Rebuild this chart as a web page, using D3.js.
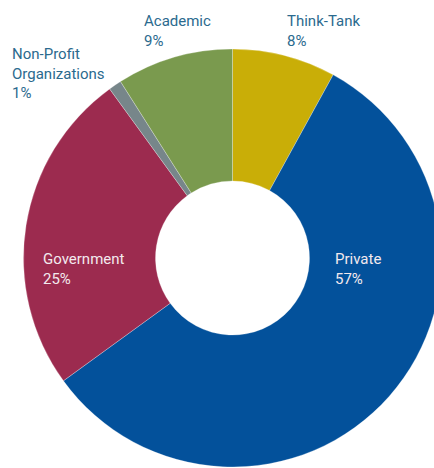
<!DOCTYPE html>
<html>
<head>
<meta charset="utf-8">
<script src="https://cdn.jsdelivr.net/npm/d3@7/dist/d3.min.js"></script>
<style>
  html, body { margin: 0; padding: 0; background: #ffffff; }
  svg { display: block; }
  text { font-family: Roboto, "DejaVu Sans", sans-serif; font-size: 15px; }
</style>
</head>
<body>
<svg id="chart" width="434" height="468"></svg>
<script>
// Sector breakdown, clockwise from 12 o'clock
const categories = ["Think-Tank", "Private", "Government", "Non-Profit Organizations", "Academic"];
const shares = [8, 57, 25, 1, 9];
const colors = ["#c9ae07", "#03519b", "#9c2b4f", "#77868a", "#7a9a4e"];

// Label lines for each category (name lines then the share)
const labelLines = [["Think-Tank"], ["Private"], ["Government"], ["Non-Profit", "Organizations"], ["Academic"]];
// Label anchors (left x, first baseline y) and whether the label sits on the ring
const labelPos = [[287, 26, false], [335, 264, true], [43, 264, true], [12, 59, false], [144, 26, false]];

const data = categories.map((c, i) => ({ name: c, value: shares[i], color: colors[i], lines: labelLines[i] }));

const svg = d3.select("#chart");
const cx = 232.5, cy = 258, outerR = 209, innerR = 77;

const pie = d3.pie().value(d => d.value).sort(null);
const arc = d3.arc().innerRadius(innerR).outerRadius(outerR);

const g = svg.append("g").attr("transform", `translate(${cx},${cy})`);
g.selectAll("path")
  .data(pie(data))
  .join("path")
  .attr("d", arc)
  .attr("fill", d => d.data.color)
  .attr("stroke", "#ffffff")
  .attr("stroke-opacity", 0.45)
  .attr("stroke-width", 0.6);

const lineH = 19.5;
const labels = svg.append("g");
data.forEach((d, i) => {
  const [x, y, inside] = labelPos[i];
  const t = labels.append("text")
    .attr("x", x)
    .attr("y", y)
    .attr("fill", inside ? "#f3e9ee" : "#2b6a8e");
  const lines = d.lines.concat([d.value + "%"]);
  lines.forEach((ln, k) => {
    t.append("tspan").attr("x", x).attr("dy", k === 0 ? 0 : lineH).text(ln);
  });
});
</script>
</body>
</html>
